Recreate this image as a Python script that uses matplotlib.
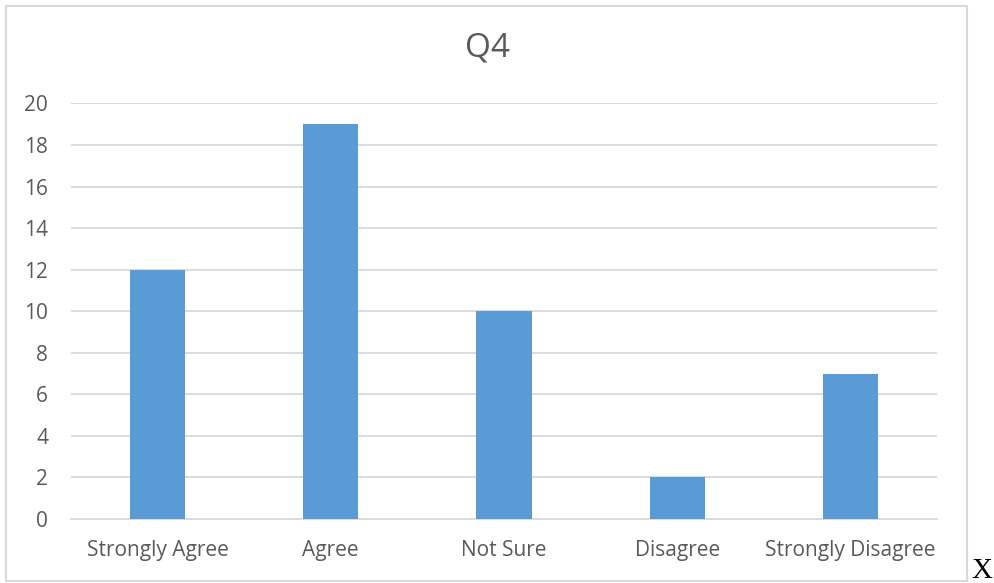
import matplotlib
matplotlib.use("Agg")
import matplotlib.pyplot as plt
from matplotlib.patches import Rectangle

categories = ["Strongly Agree", "Agree", "Not Sure", "Disagree", "Strongly Disagree"]
counts = [12, 19, 10, 2, 7]
y_ticks = [0, 2, 4, 6, 8, 10, 12, 14, 16, 18, 20]
title = "Q4"

W, H = 995, 583
fig = plt.figure(figsize=(W / 100, H / 100), dpi=100)
plt.rcParams["font.family"] = ["Open Sans", "DejaVu Sans"]

text_color = "#595959"
grid_color = "#D9D9D9"
bar_color = "#5B9BD5"

# chart frame
fig.patches.append(Rectangle((6.5 / W, 1 - 580.5 / H), (967 - 6.5) / W, (580.5 - 5.5) / H,
                             transform=fig.transFigure, fill=False,
                             edgecolor=grid_color, linewidth=1.5))

ax = fig.add_axes([71 / W, 1 - 519 / H, (937 - 71) / W, (519 - 103.5) / H])
x = range(len(categories))
ax.bar(x, counts, width=0.318, color=bar_color, zorder=3)
ax.set_xlim(-0.5, len(categories) - 0.5)
ax.set_ylim(0, 20)
ax.set_yticks(y_ticks)
ax.set_xticks(list(x))
ax.set_xticklabels(categories)
ax.grid(axis="y", color=grid_color, linewidth=1.3, zorder=0)
for s in ["top", "right", "left"]:
    ax.spines[s].set_visible(False)
ax.spines["bottom"].set_color(grid_color)
ax.spines["bottom"].set_linewidth(1.3)
ax.tick_params(axis="both", length=0, labelsize=15, colors=text_color)
ax.tick_params(axis="y", pad=16.5)
ax.tick_params(axis="x", pad=15)

fig.text(488 / W, 1 - 48 / H, title, ha="center", va="center", fontsize=24, color=text_color)
fig.text(982 / W, 1 - 571 / H, "X", ha="center", va="center", fontsize=21,
         family="Liberation Serif", color="black")

fig.savefig("out.png", dpi=100)
